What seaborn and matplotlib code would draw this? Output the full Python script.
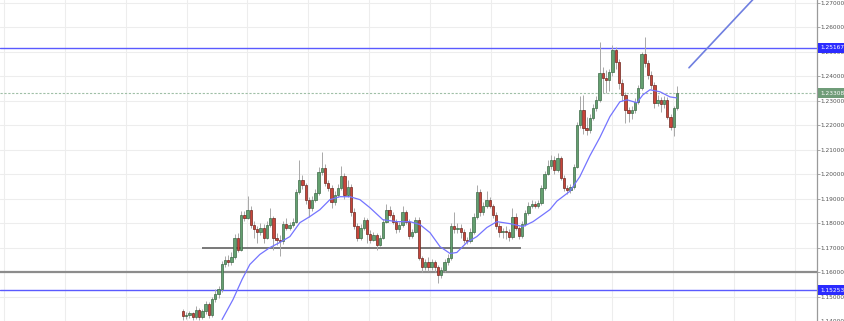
import numpy as np
import pandas as pd
import matplotlib
matplotlib.use("Agg")
import matplotlib.pyplot as plt
import matplotlib.transforms as mtransforms
import seaborn as sns

# ---------------- data ----------------
opens = [1.1439, 1.1419, 1.1423, 1.1431, 1.1415, 1.1447, 1.1415, 1.1439, 1.1468, 1.1423,
         1.1488, 1.1512, 1.1529, 1.1631, 1.1651, 1.1643, 1.1663, 1.1741, 1.1692, 1.1835,
         1.1823, 1.1855, 1.1794, 1.1774, 1.1765, 1.1782, 1.1741, 1.1794, 1.1823, 1.1741,
         1.1733, 1.1725, 1.1798, 1.1782, 1.1794, 1.1806, 1.1929, 1.1978, 1.1957, 1.1896,
         1.1863, 1.1896, 1.1925, 1.2010, 1.2027, 1.1965, 1.1945, 1.1888, 1.1916, 1.1945,
         1.1994, 1.1916, 1.1949, 1.1847, 1.1790, 1.1741, 1.1782, 1.1814, 1.1757, 1.1733,
         1.1753, 1.1712, 1.1741, 1.1806, 1.1855, 1.1835, 1.1806, 1.1774, 1.1794, 1.1847,
         1.1806, 1.1749, 1.1765, 1.1814, 1.1659, 1.1619, 1.1643, 1.1619, 1.1643, 1.1619,
         1.1586, 1.1610, 1.1643, 1.1659, 1.1790, 1.1774, 1.1782, 1.1765, 1.1733, 1.1729,
         1.1765, 1.1827, 1.1929, 1.1847, 1.1872, 1.1896, 1.1872, 1.1835, 1.1790, 1.1765,
         1.1769, 1.1765, 1.1745, 1.1827, 1.1782, 1.1749, 1.1798, 1.1843, 1.1872, 1.1880,
         1.1872, 1.1884, 1.1945, 1.2002, 1.2035, 1.2059, 1.2018, 1.2067, 1.1986, 1.1945,
         1.1937, 1.1949, 1.2031, 1.2202, 1.2263, 1.2190, 1.2182, 1.2231, 1.2271, 1.2304,
         1.2414, 1.2394, 1.2386, 1.2418, 1.2508, 1.2459, 1.2373, 1.2324, 1.2263, 1.2251,
         1.2263, 1.2296, 1.2353, 1.2490, 1.2455, 1.2406, 1.2365, 1.2292, 1.2304, 1.2288,
         1.2304, 1.2235, 1.2194, 1.2271]
closes = [1.1419, 1.1423, 1.1431, 1.1415, 1.1447, 1.1415, 1.1439, 1.1468, 1.1423, 1.1488,
          1.1512, 1.1529, 1.1631, 1.1651, 1.1643, 1.1663, 1.1741, 1.1692, 1.1835, 1.1823,
          1.1855, 1.1794, 1.1774, 1.1765, 1.1782, 1.1741, 1.1794, 1.1823, 1.1741, 1.1733,
          1.1725, 1.1798, 1.1782, 1.1794, 1.1806, 1.1929, 1.1978, 1.1957, 1.1896, 1.1863,
          1.1896, 1.1925, 1.2010, 1.2027, 1.1965, 1.1945, 1.1888, 1.1916, 1.1945, 1.1994,
          1.1916, 1.1949, 1.1847, 1.1790, 1.1741, 1.1782, 1.1814, 1.1757, 1.1733, 1.1753,
          1.1712, 1.1741, 1.1806, 1.1855, 1.1835, 1.1806, 1.1774, 1.1794, 1.1847, 1.1806,
          1.1749, 1.1765, 1.1814, 1.1659, 1.1619, 1.1643, 1.1619, 1.1643, 1.1619, 1.1586,
          1.1610, 1.1643, 1.1659, 1.1790, 1.1774, 1.1782, 1.1765, 1.1733, 1.1729, 1.1765,
          1.1827, 1.1929, 1.1847, 1.1872, 1.1896, 1.1872, 1.1835, 1.1790, 1.1765, 1.1769,
          1.1765, 1.1745, 1.1827, 1.1782, 1.1749, 1.1798, 1.1843, 1.1872, 1.1880, 1.1872,
          1.1884, 1.1945, 1.2002, 1.2035, 1.2059, 1.2018, 1.2067, 1.1986, 1.1945, 1.1937,
          1.1949, 1.2031, 1.2202, 1.2263, 1.2190, 1.2182, 1.2231, 1.2271, 1.2304, 1.2414,
          1.2394, 1.2386, 1.2418, 1.2508, 1.2459, 1.2373, 1.2324, 1.2263, 1.2251, 1.2263,
          1.2296, 1.2353, 1.2490, 1.2455, 1.2406, 1.2365, 1.2292, 1.2304, 1.2288, 1.2304,
          1.2235, 1.2194, 1.2271, 1.2331]
highs = [1.1450, 1.1435, 1.1440, 1.1438, 1.1460, 1.1455, 1.1450, 1.1480, 1.1478, 1.1500,
         1.1530, 1.1545, 1.1645, 1.1665, 1.1668, 1.1680, 1.1755, 1.1760, 1.1850, 1.1850,
         1.1910, 1.1870, 1.1810, 1.1790, 1.1800, 1.1795, 1.1810, 1.1860, 1.1830, 1.1760,
         1.1750, 1.1810, 1.1820, 1.1805, 1.1820, 1.1940, 1.2060, 1.1995, 1.1965, 1.1905,
         1.1910, 1.1940, 1.2030, 1.2092, 1.2040, 1.1975, 1.1955, 1.1930, 1.1960, 1.2035,
         1.2005, 1.1975, 1.1960, 1.1860, 1.1800, 1.1795, 1.1825, 1.1820, 1.1770, 1.1765,
         1.1760, 1.1750, 1.1815, 1.1880, 1.1870, 1.1845, 1.1815, 1.1805, 1.1870, 1.1855,
         1.1815, 1.1775, 1.1825, 1.1825, 1.1665, 1.1655, 1.1660, 1.1655, 1.1650, 1.1630,
         1.1620, 1.1655, 1.1675, 1.1800, 1.1845, 1.1800, 1.1795, 1.1775, 1.1745, 1.1780,
         1.1840, 1.1955, 1.1940, 1.1885, 1.1930, 1.1905, 1.1880, 1.1845, 1.1800, 1.1780,
         1.1790, 1.1775, 1.1860, 1.1840, 1.1790, 1.1810, 1.1855, 1.1885, 1.1895, 1.1890,
         1.1895, 1.1955, 1.2015, 1.2060, 1.2080, 1.2075, 1.2085, 1.2075, 1.1995, 1.1955,
         1.1960, 1.2040, 1.2215, 1.2320, 1.2325, 1.2235, 1.2245, 1.2285, 1.2320, 1.2540,
         1.2440, 1.2425, 1.2430, 1.2530, 1.2520, 1.2470, 1.2390, 1.2335, 1.2275, 1.2280,
         1.2310, 1.2365, 1.2500, 1.2560, 1.2465, 1.2420, 1.2375, 1.2325, 1.2315, 1.2320,
         1.2315, 1.2245, 1.2280, 1.2362]
lows = [1.1405, 1.1410, 1.1412, 1.1405, 1.1408, 1.1405, 1.1410, 1.1430, 1.1412, 1.1418,
        1.1478, 1.1495, 1.1520, 1.1620, 1.1625, 1.1630, 1.1655, 1.1680, 1.1685, 1.1810,
        1.1815, 1.1780, 1.1740, 1.1720, 1.1750, 1.1720, 1.1735, 1.1785, 1.1690, 1.1710,
        1.1665, 1.1715, 1.1770, 1.1772, 1.1785, 1.1800, 1.1920, 1.1940, 1.1880, 1.1825,
        1.1850, 1.1885, 1.1915, 1.1995, 1.1950, 1.1930, 1.1860, 1.1875, 1.1905, 1.1935,
        1.1900, 1.1905, 1.1830, 1.1775, 1.1725, 1.1730, 1.1770, 1.1720, 1.1720, 1.1725,
        1.1690, 1.1705, 1.1735, 1.1800, 1.1825, 1.1795, 1.1760, 1.1765, 1.1785, 1.1795,
        1.1735, 1.1740, 1.1760, 1.1650, 1.1600, 1.1610, 1.1605, 1.1610, 1.1600, 1.1555,
        1.1575, 1.1600, 1.1630, 1.1650, 1.1760, 1.1760, 1.1740, 1.1720, 1.1715, 1.1720,
        1.1755, 1.1815, 1.1830, 1.1835, 1.1860, 1.1860, 1.1820, 1.1775, 1.1745, 1.1740,
        1.1735, 1.1725, 1.1735, 1.1770, 1.1735, 1.1740, 1.1790, 1.1835, 1.1860, 1.1860,
        1.1860, 1.1875, 1.1935, 1.1995, 1.2020, 1.2000, 1.2010, 1.1975, 1.1930, 1.1920,
        1.1925, 1.1940, 1.2025, 1.2190, 1.2165, 1.2160, 1.2170, 1.2220, 1.2260, 1.2295,
        1.2330, 1.2330, 1.2340, 1.2400, 1.2430, 1.2350, 1.2300, 1.2210, 1.2215, 1.2225,
        1.2250, 1.2285, 1.2345, 1.2440, 1.2390, 1.2350, 1.2270, 1.2280, 1.2255, 1.2270,
        1.2225, 1.2180, 1.2158, 1.2262]

# moving average (candle index, value)
ma_index = [12.1, 15.5, 18.3, 20.7, 23.8, 26.9, 30.0, 33.1, 36.2, 39.3, 42.4, 45.5, 48.6,
            51.7, 54.8, 57.9, 61.9, 66.3, 70.3, 73.4, 76.5, 79.6, 82.7, 84.8, 87.9, 91.0,
            94.1, 97.2, 101.2, 105.3, 108.4, 111.5, 113.6, 115.8, 119.8, 122.9, 126.0,
            129.1, 132.2, 135.3, 137.5, 140.6, 142.4, 144.6, 147.7, 150.8, 152.9]
ma_value = [1.1406, 1.1488, 1.1570, 1.1631, 1.1672, 1.1700, 1.1721, 1.1745, 1.1802, 1.1827,
            1.1855, 1.1896, 1.1908, 1.1908, 1.1896, 1.1863, 1.1814, 1.1806, 1.1806, 1.1794,
            1.1761, 1.1704, 1.1676, 1.1680, 1.1721, 1.1745, 1.1782, 1.1806, 1.1798, 1.1786,
            1.1806, 1.1835, 1.1855, 1.1890, 1.1930, 1.1990, 1.2075, 1.2150, 1.2235, 1.2296,
            1.2304, 1.2292, 1.2324, 1.2345, 1.2337, 1.2316, 1.2312]

price_ticks = [1.14, 1.15, 1.16, 1.17, 1.18, 1.19, 1.20, 1.21, 1.22, 1.23, 1.24, 1.25, 1.26, 1.27]
resistance = 1.25167
support_full = 1.16
support_low = 1.15253
support_mid = 1.17
support_mid_span = [5.9, 104.7]
last_price = 1.23308
trend_x = [156.7, 177.5]
trend_y = [1.2435, 1.2728]

# ---------------- drawing ----------------
sns.set_theme(style="white")
plt.rcParams['font.family'] = ['DejaVu Sans']

W, H = 845, 321
fig = plt.figure(figsize=(W / 100, H / 100), dpi=100)
ax = fig.add_axes([0, 0, 817 / W, 1])

n = len(closes)
idx = np.arange(n)
o = np.array(opens); c = np.array(closes)
hi = np.array(highs); lo = np.array(lows)

ax.set_xlim(-56.67, 196.35)
ax.set_ylim(1.1402, 1.2712)

# grid
ax.set_yticks(price_ticks)
for p in price_ticks:
    ax.axhline(p, color="#ededed", lw=0.8, zorder=0)
for k in range(14):
    ax.axvline(-55.4 + 18.83 * k, color="#ededed", lw=0.8, zorder=0)

# horizontal levels
ax.axhline(resistance, color="#5a5aff", lw=1.0, zorder=2)
ax.axhline(support_full, color="#8c8c8c", lw=1.6, zorder=2)
ax.axhline(support_low, color="#5a5aff", lw=1.0, zorder=2)
ax.hlines(support_mid, support_mid_span[0], support_mid_span[1], color="#6e6e6e", lw=1.3, zorder=2)
ax.axhline(last_price, color="#9fbfa6", lw=0.8, ls=(0, (2, 1.5)), zorder=2)
ax.plot(trend_x, trend_y, color="#6f7fe0", lw=1.2, zorder=2)

# candles
up = c >= o
fills = np.where(up, "#64a070", "#c8453a")
edges = np.where(up, "#3d6a47", "#6e2820")
ax.vlines(idx, lo, hi, color="#a8a8a8", lw=0.7, zorder=3)
body_lo = np.minimum(o, c)
body_h = np.maximum(np.abs(c - o), 0.0003)
ax.bar(idx, body_h, bottom=body_lo, width=0.72, color=fills, edgecolor=edges,
       linewidth=0.5, zorder=4)

# moving average
ma_df = pd.DataFrame({"i": ma_index, "ma": ma_value})
sns.lineplot(data=ma_df, x="i", y="ma", ax=ax, color="#7474ff", lw=0.9, zorder=5,
             estimator=None, sort=False)

# axes styling
for s in ["left", "top", "bottom"]:
    ax.spines[s].set_visible(False)
ax.spines["right"].set_color("#9a9a9a")
ax.spines["right"].set_linewidth(0.9)
ax.set_xticks([])
ax.set_xlabel(""); ax.set_ylabel("")
ax.yaxis.tick_right()
ax.set_yticklabels([f"{p:.5f}" for p in price_ticks])
ax.tick_params(axis="y", right=True, length=2.0, width=0.6, color="#9a9a9a",
               pad=0.8, labelsize=4.2, labelcolor="#555555")

# price label boxes
trans = mtransforms.blended_transform_factory(ax.transAxes, ax.transData)
for val, col in [(resistance, "#2b2bff"), (last_price, "#6f9c78"), (support_low, "#2b2bff")]:
    ax.text(1.0045, val, f"{val:.5f}", transform=trans, ha="left", va="center",
            fontsize=4.2, color="white", zorder=10, clip_on=False,
            bbox=dict(boxstyle="square,pad=0.45", fc=col, ec="none"))

fig.savefig("out.png", dpi=100)
